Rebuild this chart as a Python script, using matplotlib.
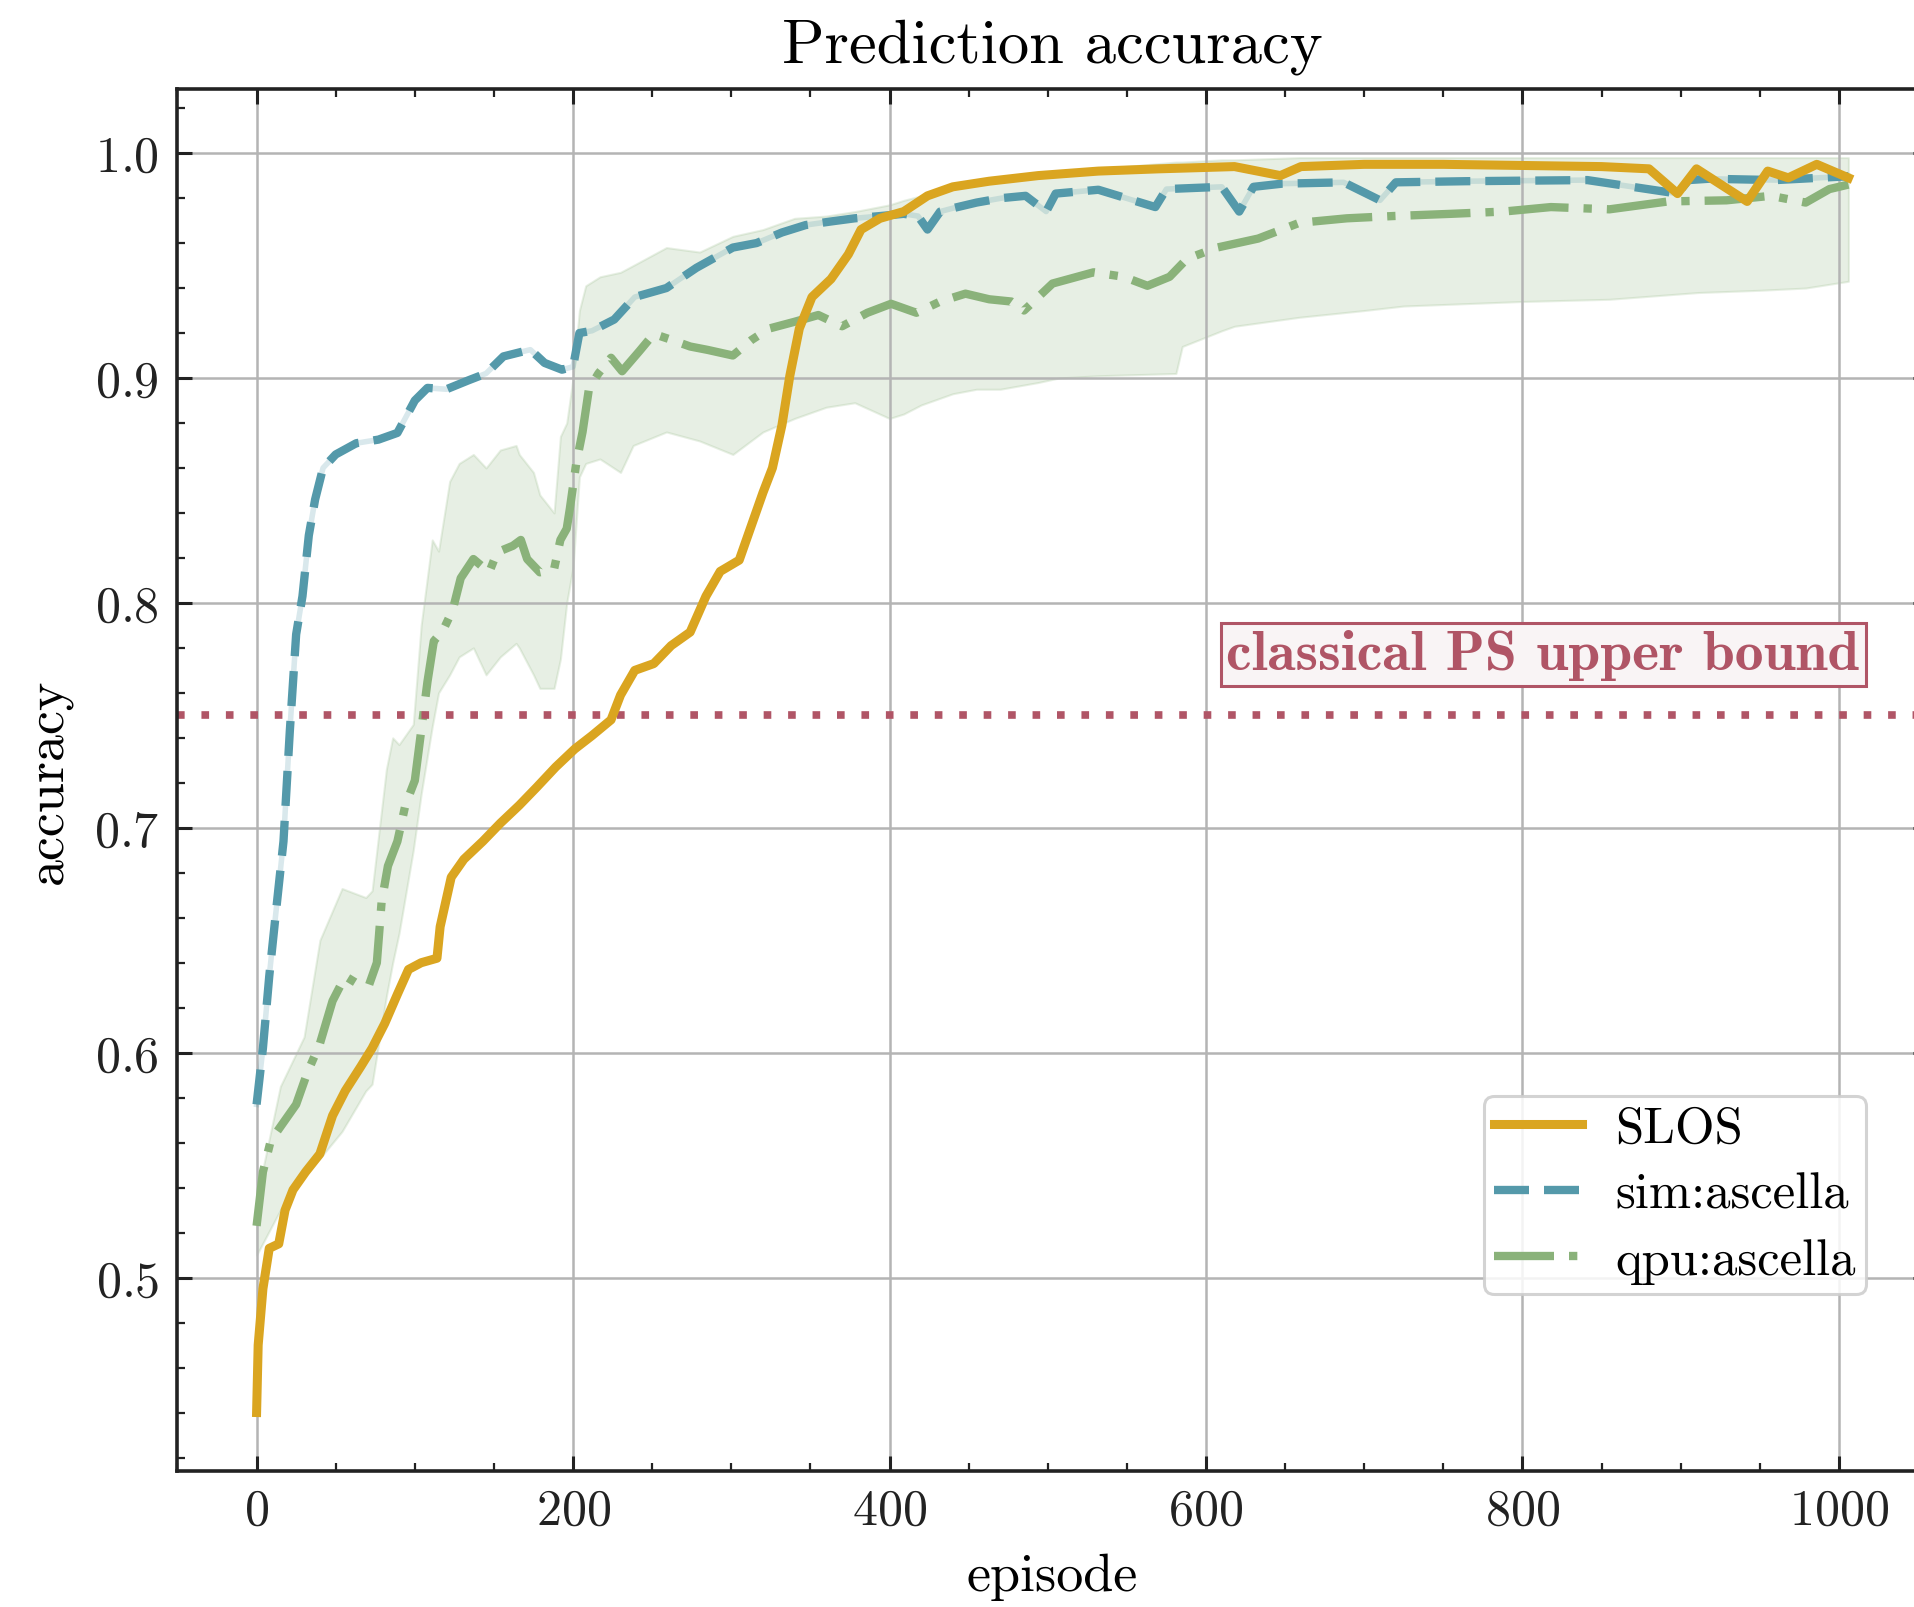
import numpy as np
import matplotlib
matplotlib.use("Agg")
import matplotlib.pyplot as plt
from matplotlib.ticker import MultipleLocator, AutoMinorLocator

# data
slos_ep = [0, 1, 4, 8, 14, 18, 23, 31, 40, 48, 56, 66, 73, 81, 89, 96, 104, 114, 116, 123,
           131, 143, 154, 166, 177, 189, 201, 212, 224, 230, 239, 251, 262, 274, 284, 293,
           305, 313, 320, 326, 332, 337, 343, 351, 363, 374, 382, 394, 409, 424, 440, 463,
           494, 532, 570, 618, 647, 660, 700, 750, 800, 850, 880, 898, 910, 942, 955, 968,
           986, 1006]
slos_acc = [0.440, 0.470, 0.495, 0.513, 0.515, 0.530, 0.539, 0.547, 0.555, 0.572, 0.583,
            0.594, 0.602, 0.613, 0.626, 0.637, 0.640, 0.642, 0.656, 0.678, 0.686, 0.694,
            0.702, 0.710, 0.718, 0.727, 0.735, 0.741, 0.748, 0.759, 0.770, 0.773, 0.781,
            0.787, 0.803, 0.814, 0.819, 0.835, 0.849, 0.860, 0.879, 0.901, 0.922, 0.936,
            0.944, 0.955, 0.966, 0.971, 0.974, 0.981, 0.985, 0.9875, 0.990, 0.992, 0.993,
            0.994, 0.990, 0.994, 0.995, 0.995, 0.9945, 0.994, 0.993, 0.982, 0.993, 0.9785,
            0.992, 0.989, 0.995, 0.989]

sim_ep = [0, 4, 8, 12, 17, 21, 25, 29, 33, 37, 42, 50, 63, 77, 89, 100, 108, 120, 134, 145,
          156, 173, 182, 193, 200, 204, 212, 226, 239, 259, 278, 301, 316, 332, 347, 363,
          378, 394, 409, 418, 424, 432, 440, 455, 471, 486, 499, 505, 532, 568, 575, 610,
          621, 630, 648, 687, 710, 720, 764, 841, 898, 905, 918, 960, 1006]
sim_acc = [0.577, 0.602, 0.634, 0.661, 0.694, 0.743, 0.786, 0.803, 0.830, 0.846, 0.860,
           0.866, 0.871, 0.8726, 0.8756, 0.890, 0.8956, 0.895, 0.899, 0.902, 0.9096, 0.9126,
           0.9067, 0.9037, 0.905, 0.920, 0.921, 0.926, 0.936, 0.940, 0.949, 0.958, 0.960,
           0.9647, 0.968, 0.9696, 0.971, 0.972, 0.973, 0.972, 0.966, 0.974, 0.9755, 0.978,
           0.980, 0.981, 0.974, 0.982, 0.9837, 0.976, 0.984, 0.985, 0.974, 0.985, 0.9864,
           0.987, 0.979, 0.987, 0.9875, 0.988, 0.982, 0.988, 0.9886, 0.988, 0.9897]

qpu_ep = [0, 4, 9, 17, 25, 32, 40, 48, 56, 63, 71, 76, 79, 83, 89, 94, 100, 104, 108, 112,
          118, 124, 129, 137, 147, 152, 162, 167, 171, 179, 188, 192, 196, 198, 202, 206,
          210, 216, 224, 231, 242, 251, 262, 274, 285, 301, 313, 324, 340, 355, 370, 386,
          401, 417, 432, 448, 463, 477, 485, 503, 529, 548, 563, 577, 588, 607, 633, 659,
          689, 718, 755, 788, 818, 855, 892, 929, 957, 979, 994, 1006]
qpu_acc = [0.523, 0.547, 0.561, 0.569, 0.577, 0.591, 0.604, 0.623, 0.634, 0.631, 0.630,
           0.640, 0.667, 0.683, 0.694, 0.710, 0.721, 0.743, 0.765, 0.783, 0.788, 0.797,
           0.811, 0.8195, 0.8136, 0.8225, 0.8254, 0.828, 0.8195, 0.8136, 0.815, 0.828,
           0.833, 0.842, 0.862, 0.876, 0.895, 0.902, 0.909, 0.903, 0.912, 0.9196, 0.917,
           0.914, 0.9125, 0.910, 0.917, 0.922, 0.925, 0.928, 0.923, 0.929, 0.933, 0.929,
           0.934, 0.9375, 0.935, 0.934, 0.930, 0.942, 0.947, 0.945, 0.941, 0.945, 0.953,
           0.958, 0.962, 0.969, 0.971, 0.972, 0.973, 0.974, 0.976, 0.975, 0.9785, 0.979,
           0.981, 0.978, 0.984, 0.986]

# spread of the qpu runs
band_ep = [0, 15, 30, 40, 54, 69, 73, 82, 86, 90, 99, 104, 111, 115, 122, 128, 137, 145, 154,
           164, 166, 175, 179, 188, 192, 196, 200, 204, 208, 217, 230, 238, 259, 280, 301,
           320, 340, 360, 378, 400, 409, 420, 440, 455, 470, 494, 507, 532, 581, 585, 610,
           618, 659, 700, 725, 799, 855, 911, 950, 979, 1006]
band_hi = [0.535, 0.585, 0.607, 0.650, 0.673, 0.669, 0.672, 0.726, 0.740, 0.737, 0.746,
           0.790, 0.828, 0.823, 0.854, 0.862, 0.866, 0.860, 0.868, 0.870, 0.866, 0.858,
           0.848, 0.840, 0.874, 0.880, 0.900, 0.930, 0.941, 0.945, 0.947, 0.950, 0.958,
           0.956, 0.963, 0.966, 0.971, 0.972, 0.974, 0.977, 0.979, 0.981, 0.985, 0.9875,
           0.989, 0.991, 0.992, 0.993, 0.996, 0.996, 0.997, 0.997, 0.998, 0.998, 0.998,
           0.998, 0.998, 0.998, 0.998, 0.998, 0.998]
band_lo = [0.510, 0.530, 0.545, 0.553, 0.565, 0.583, 0.586, 0.625, 0.640, 0.653, 0.690,
           0.715, 0.745, 0.760, 0.768, 0.776, 0.780, 0.768, 0.776, 0.782, 0.780, 0.768,
           0.762, 0.762, 0.775, 0.800, 0.816, 0.856, 0.862, 0.864, 0.858, 0.870, 0.876,
           0.872, 0.866, 0.876, 0.882, 0.887, 0.889, 0.882, 0.884, 0.888, 0.893, 0.895,
           0.895, 0.898, 0.900, 0.901, 0.902, 0.914, 0.921, 0.923, 0.927, 0.930, 0.932,
           0.934, 0.935, 0.938, 0.939, 0.940, 0.943]

classical_bound = 0.75

gold = '#daa520'
teal = '#5499aa'
green = '#8ab27a'
red = '#b05566'
ink = '#222222'

plt.rcParams['font.family'] = 'cmr10'
plt.rcParams['axes.formatter.use_mathtext'] = True
plt.rcParams['mathtext.fontset'] = 'cm'

fig = plt.figure(figsize=(19.15, 16.08), dpi=100)
ax = fig.add_axes([177 / 1915, 136 / 1608, 1751 / 1915, 1382 / 1608])

### grid + spread band
ax.grid(True, color='#b4b4b4', lw=1.8, zorder=0)
ax.fill_between(band_ep, band_lo, band_hi, color=green, alpha=0.2, lw=1.5, zorder=1)

### curves
ax.plot(slos_ep, slos_acc, color=gold, lw=6.5, label='SLOS', zorder=4)
ax.plot(sim_ep, sim_acc, color=teal, lw=4, alpha=0.22, zorder=3)
ax.plot(sim_ep, sim_acc, color=teal, lw=6.0, ls=(0, (4.2, 1.8)), label='sim:ascella', zorder=3)
ax.plot(qpu_ep, qpu_acc, color=green, lw=6.0, ls=(0, (7.2, 1.8, 1.0, 1.8)),
        label='qpu:ascella', zorder=2)

ax.axhline(classical_bound, color=red, lw=5.5, ls=(0, (1, 2.2)), zorder=2)
ax.text(813, 0.777, 'classical PS upper bound', ha='center', va='center',
        family='cmb10', fontsize=41.5, color=red, zorder=5,
        bbox=dict(boxstyle='square,pad=0.1', fc='#f9f4f5', ec=red, lw=2.2))

### axes styling
ax.set_xlim(-50.3, 1056.3)
ax.set_ylim(0.414, 1.0285)
ax.xaxis.set_major_locator(MultipleLocator(200))
ax.xaxis.set_minor_locator(MultipleLocator(50))
ax.yaxis.set_major_locator(MultipleLocator(0.1))
ax.yaxis.set_minor_locator(AutoMinorLocator(5))
ax.tick_params(which='both', direction='in', top=True, right=True, colors=ink,
               labelsize=36)
ax.tick_params(which='major', length=10.8, width=2.2)
ax.tick_params(which='minor', length=5.8, width=1.6)
ax.tick_params(axis='y', pad=13)
ax.tick_params(axis='x', pad=12)
for s in ax.spines.values():
    s.set_linewidth(2.6)
    s.set_color(ink)

ax.set_title('Prediction accuracy', fontsize=45, pad=20)
ax.set_xlabel('episode', fontsize=39, labelpad=14)
ax.set_ylabel('accuracy', fontsize=39, labelpad=16)

leg = ax.legend(loc='lower right', bbox_to_anchor=(0.9646, 0.128), borderaxespad=0,
                fontsize=36.5, handlelength=1.75, handletextpad=0.65, borderpad=0.2,
                labelspacing=0.4, fancybox=True, framealpha=0.85)
leg.get_frame().set_edgecolor('#cccccc')
leg.get_frame().set_linewidth(2.2)

fig.savefig('out.png', dpi=100)
